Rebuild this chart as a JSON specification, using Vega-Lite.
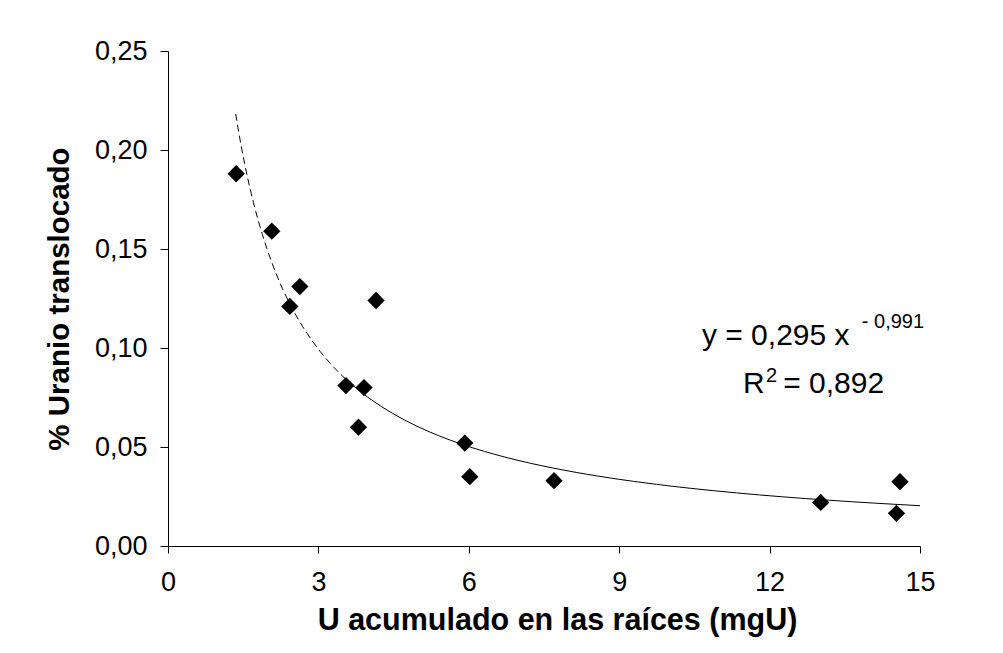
{
  "$schema": "https://vega.github.io/schema/vega-lite/v6.json",
  "width": 752,
  "height": 495,
  "autosize": {"type": "none"},
  "padding": {"left": 168, "top": 51, "right": 83, "bottom": 107},
  "background": "white",
  "config": {
    "view": {"stroke": null},
    "font": "Liberation Sans",
    "axis": {
      "grid": false,
      "domainColor": "black",
      "tickColor": "black",
      "labelColor": "black",
      "titleColor": "black",
      "labelFont": "Liberation Sans",
      "titleFont": "Liberation Sans",
      "labelFontSize": 27,
      "titleFontSize": 30,
      "titleFontWeight": "bold",
      "tickSize": 8,
      "domainWidth": 1,
      "tickWidth": 1,
      "labelFlush": false
    }
  },
  "data": {
    "values": [
      {"x": 1.36, "y": 0.188},
      {"x": 2.07, "y": 0.159},
      {"x": 2.43, "y": 0.121},
      {"x": 2.63, "y": 0.131},
      {"x": 3.55, "y": 0.081},
      {"x": 3.80, "y": 0.060},
      {"x": 3.91, "y": 0.080},
      {"x": 4.15, "y": 0.124},
      {"x": 5.92, "y": 0.052},
      {"x": 6.02, "y": 0.035},
      {"x": 7.70, "y": 0.033},
      {"x": 13.02, "y": 0.022},
      {"x": 14.60, "y": 0.0325},
      {"x": 14.53, "y": 0.0165}
    ]
  },
  "layer": [
    {
      "transform": [{"regression": "y", "on": "x", "method": "pow", "extent": [1.35, 3.57]}],
      "mark": {"type": "line", "color": "black", "strokeWidth": 1, "strokeDash": [7, 4], "clip": true},
      "encoding": {
        "x": {"field": "x", "type": "quantitative"},
        "y": {"field": "y", "type": "quantitative"}
      }
    },
    {
      "transform": [{"regression": "y", "on": "x", "method": "pow", "extent": [3.57, 15]}],
      "mark": {"type": "line", "color": "black", "strokeWidth": 1, "clip": true},
      "encoding": {
        "x": {"field": "x", "type": "quantitative"},
        "y": {"field": "y", "type": "quantitative"}
      }
    },
    {
      "mark": {"type": "point", "shape": "diamond", "filled": true, "color": "black", "opacity": 1, "size": 300},
      "encoding": {
        "x": {
          "field": "x", "type": "quantitative",
          "scale": {"domain": [0, 15], "nice": false, "zero": false},
          "axis": {"values": [0, 3, 6, 9, 12, 15], "title": "U acumulado en las raíces (mgU)", "titleFontSize": 30.5, "titleX": 389, "labelPadding": 16, "titlePadding": 10, "tickSize": 7, "labelFlush": false}
        },
        "y": {
          "field": "y", "type": "quantitative",
          "scale": {"domain": [0, 0.25], "nice": false},
          "axis": {"values": [0, 0.05, 0.1, 0.15, 0.2, 0.25], "labelExpr": "replace(format(datum.value, '.2f'), '.', ',')", "title": "% Uranio translocado", "titleFontSize": 29.5, "labelPadding": 13, "titlePadding": 20, "labelFlush": false}
        }
      }
    },
    {
      "data": {"values": [{"t": "y = 0,295 x"}]},
      "mark": {"type": "text", "align": "left", "baseline": "alphabetic", "fontSize": 30, "color": "black"},
      "encoding": {"text": {"field": "t"}, "x": {"datum": 10.65}, "y": {"datum": 0.1015}}
    },
    {
      "data": {"values": [{"t": "- 0,991"}]},
      "mark": {"type": "text", "align": "left", "baseline": "alphabetic", "fontSize": 20, "color": "black"},
      "encoding": {"text": {"field": "t"}, "x": {"datum": 13.84}, "y": {"datum": 0.1101}}
    },
    {
      "data": {"values": [{"t": "R"}]},
      "mark": {"type": "text", "align": "left", "baseline": "alphabetic", "fontSize": 30, "color": "black"},
      "encoding": {"text": {"field": "t"}, "x": {"datum": 11.47}, "y": {"datum": 0.0773}}
    },
    {
      "data": {"values": [{"t": "2"}]},
      "mark": {"type": "text", "align": "left", "baseline": "alphabetic", "fontSize": 20, "color": "black"},
      "encoding": {"text": {"field": "t"}, "x": {"datum": 11.93}, "y": {"datum": 0.0828}}
    },
    {
      "data": {"values": [{"t": "= 0,892"}]},
      "mark": {"type": "text", "align": "left", "baseline": "alphabetic", "fontSize": 30, "color": "black"},
      "encoding": {"text": {"field": "t"}, "x": {"datum": 12.27}, "y": {"datum": 0.0773}}
    }
  ]
}
